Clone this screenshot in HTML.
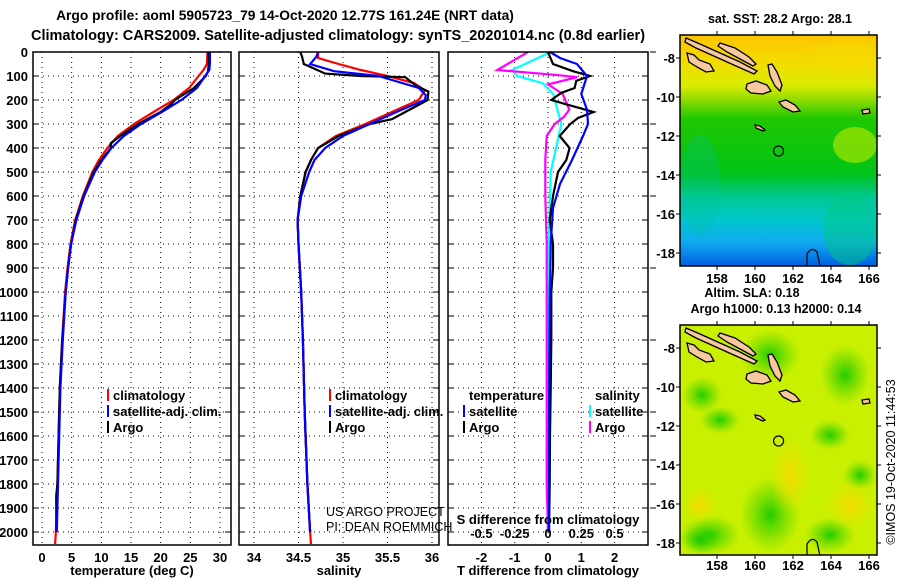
<!DOCTYPE html>
<html><head><meta charset="utf-8"><style>
html,body{margin:0;padding:0;background:#fff;overflow:hidden;width:900px;height:580px}
svg{display:block;overflow:hidden}
text{font-family:"Liberation Sans",sans-serif;font-weight:bold;fill:#000}
</style></head><body>
<svg id="fig" width="900" height="580" viewBox="0 0 900 580" xmlns="http://www.w3.org/2000/svg">
<defs>
<linearGradient id="sstGrad" x1="0" y1="0" x2="0" y2="1">
<stop offset="0" stop-color="#ffc400"/><stop offset="0.12" stop-color="#f2dc00"/>
<stop offset="0.22" stop-color="#d8ec00"/><stop offset="0.28" stop-color="#90dc00"/>
<stop offset="0.36" stop-color="#20c800"/><stop offset="0.6" stop-color="#00c418"/>
<stop offset="0.7" stop-color="#00c890"/><stop offset="0.8" stop-color="#00c8cc"/>
<stop offset="0.9" stop-color="#10a8f0"/><stop offset="1" stop-color="#0060e0"/>
</linearGradient>
<radialGradient id="blobG"><stop offset="0" stop-color="#10c800" stop-opacity="0.9"/><stop offset="1" stop-color="#40d000" stop-opacity="0"/></radialGradient>
<radialGradient id="blobY"><stop offset="0" stop-color="#f8d800" stop-opacity="0.9"/><stop offset="1" stop-color="#f0e000" stop-opacity="0"/></radialGradient>
<clipPath id="clipMap1"><rect x="680" y="35" width="197" height="231"/></clipPath>
<clipPath id="clipMap2"><rect x="680" y="325" width="197" height="230"/></clipPath>
</defs>
<g id="root"></g>
</svg>
<script>
// ---------- data ----------
const depthTicks = [0,100,200,300,400,500,600,700,800,900,1000,1100,1200,1300,1400,1500,1600,1700,1800,1900,2000];
const tempTicks = [0,5,10,15,20,25,30];
const salTicks = [34,34.5,35,35.5,36];
const salTickLabels = ["34","34.5","35","35.5","36"];
const tdiffTicks = [-2,-1,0,1,2];
const sdiffTicks = [-0.5,-0.25,0,0.25,0.5];
const sdiffTickLabels = ["-0.5","-0.25","0","0.25","0.5"];

const tClimDepth = [0,50,75,100,150,200,250,300,350,400,450,500,600,700,800,900,1000,1200,1400,1600,1800,2000,2050];
const tClimVal   = [27.9,27.8,27.2,26.4,24.8,22.2,18.8,15.5,12.8,11.0,9.6,8.5,6.9,5.6,4.8,4.3,3.9,3.4,3.0,2.8,2.6,2.35,2.2];
const tSatDepth  = [0,50,75,100,150,200,250,300,350,400,450,500,600,700,800,900,1000,1200,1400,1600,1800,2000];
const tSatVal    = [28.3,28.3,28.2,27.5,26.1,23.5,20.2,16.7,13.8,11.7,10.2,8.9,7.1,5.8,4.9,4.4,4.0,3.5,3.1,2.9,2.7,2.5];
const tArgoDepth = [0,50,80,100,150,200,220,250,300,350,380,400,450,500,600,700,800,900,1000,1200,1400,1600,1800,1850,2000];
const tArgoVal   = [28.1,28.1,28.0,27.6,25.6,22.4,21.6,20.0,16.2,13.2,11.6,11.6,10.0,8.7,7.0,5.7,4.9,4.4,4.0,3.4,3.0,2.8,2.6,2.4,2.45];

const sClimDepth = [0,25,50,75,100,130,160,200,250,300,350,400,450,500,600,700,800,1000,1200,1500,1800,2000,2050];
const sClimVal   = [34.72,34.72,34.95,35.2,35.5,35.8,35.92,35.85,35.55,35.25,34.92,34.72,34.64,34.58,34.52,34.49,34.5,34.53,34.55,34.57,34.6,34.63,34.64];
const sSatDepth  = [0,20,50,80,100,150,180,200,250,300,350,400,450,500,600,700,800,1000,1200,1500,1800,2000];
const sSatVal    = [34.72,34.7,34.63,34.9,35.4,35.85,35.93,35.92,35.6,35.3,35.0,34.8,34.68,34.62,34.53,34.49,34.5,34.53,34.55,34.57,34.6,34.63];
const sArgoDepth = [0,20,50,90,100,105,120,140,165,200,250,280,300,350,400,450,500,600,700,800,1000,1200,1500,1800,2000];
const sArgoVal   = [34.52,34.54,34.56,34.8,35.2,35.7,35.75,35.82,35.96,35.95,35.7,35.55,35.3,34.95,34.72,34.64,34.58,34.52,34.49,34.5,34.53,34.55,34.57,34.6,34.63];

const dTSatDepth = [0,25,50,100,175,240,300,350,450,550,650,800,1000,1300,1600,2000];
const dTSatVal   = [0.06,0.36,0.87,1.17,1.0,1.17,1.2,1.05,0.72,0.36,0.15,0.08,0.05,0.04,0.03,0.03];
const dTArgoDepth= [0,50,80,100,120,150,170,200,220,250,275,300,350,400,450,500,600,700,800,900,1000,1200,1400,1600,1800,2000];
const dTArgoVal  = [0.0,0.15,0.75,1.26,0.85,0.8,0.4,0.1,0.6,1.37,0.9,0.67,0.35,0.65,0.55,0.3,0.15,0.05,0.15,0.15,0.1,0.1,0.08,0.06,0.05,0.03];
const dSSatDepth = [0,75,100,130,175,240,300,400,500,700,1000,1500,2000];
const dSSatVal   = [0.02,-0.27,-0.23,-0.04,0.04,0.07,0.1,0.06,0.02,0.01,0.0,0.0,0.0];
const dSArgoDepth= [0,75,95,105,135,175,240,270,300,350,450,600,800,1000,1400,1800,2000];
const dSArgoVal  = [-0.15,-0.38,0.05,0.22,0.0,0.11,0.16,0.12,0.05,-0.01,-0.02,-0.02,-0.01,-0.01,-0.01,-0.01,0.0];

const mapLonTicks = [158,160,162,164,166];
const mapLatTicks = [-8,-10,-12,-14,-16,-18];
const argoLon = 161.24, argoLat = -12.77;

// ---------- helpers ----------
const NS = "http://www.w3.org/2000/svg";
const root = document.getElementById('root');
function el(tag, attrs, parent){ const e=document.createElementNS(NS,tag); for(const k in attrs) e.setAttribute(k,attrs[k]); (parent||root).appendChild(e); return e; }
function txt(x,y,s,size,anchor,parent){ const t=el('text',{x:x,y:y,'font-size':size,'text-anchor':anchor||'middle'},parent); t.textContent=s; return t; }

const PT=52, PB=545;
const yD = d => PT + d*0.24;
const panels = [
  {name:'temperature-panel', x0:33, x1:231, sx:v=>42+v*5.933},
  {name:'salinity-panel', x0:239, x1:439, sx:v=>254+(v-34)*89},
  {name:'difference-panel', x0:448, x1:648, sx:v=>548+v*33.3}
];
const sS = v => 548 + v*133.2;

function drawPanel(p, ticks, labels, title, parent){
  ticks.forEach(t=>{ const x=p.sx(t); el('line',{x1:x,y1:PT,x2:x,y2:PB,stroke:'#000','stroke-width':1,'stroke-dasharray':'1,4'},parent);});
  depthTicks.forEach(d=>{ const y=yD(d); el('line',{x1:p.x0,y1:y,x2:p.x1,y2:y,stroke:'#000','stroke-width':1,'stroke-dasharray':'1,4'},parent);
    el('line',{x1:p.x0,y1:y,x2:p.x0+6,y2:y,stroke:'#000'},parent); el('line',{x1:p.x1-6,y1:y,x2:p.x1,y2:y,stroke:'#000'},parent);});
  labels.forEach((l,i)=>{ const t=txt(p.sx(ticks[i]),562,l,13,'middle',parent);   });
  const tt=txt((p.x0+p.x1)/2,575,title,13,'middle',parent);
  
  
}
function line(xs, depths, vals, color, parent, name){
  const pts = depths.map((d,i)=>xs(vals[i]).toFixed(1)+','+yD(d).toFixed(1)).join(' ');
  const pl = el('polyline',{points:pts,fill:'none',stroke:color,'stroke-width':2.2,'stroke-linejoin':'miter'},parent);
  
  
}
function legend(x,y,color,label,parent){
  el('rect',{x:x,y:y-11,width:2,height:12,fill:color},parent);
  txt(x+6,y,label,13,'start',parent);
}

// ---------- titles ----------
const t1=txt(285,20,"Argo profile: aoml 5905723_79 14-Oct-2020 12.77S 161.24E (NRT data)",13.8,'middle');


const t2=txt(338,40,"Climatology: CARS2009. Satellite-adjusted climatology: synTS_20201014.nc (0.8d earlier)",14.5,'middle');



const yax = el('g',{});


depthTicks.forEach(d=>txt(28,yD(d)+5,String(d),13,'end',yax));

// panel 1
const g1 = el('g',{});


drawPanel(panels[0], tempTicks, tempTicks.map(String), "temperature (deg C)", g1);
line(panels[0].sx, tClimDepth, tClimVal, '#ff0000', g1, 'temp-climatology-line');
line(panels[0].sx, tArgoDepth, tArgoVal, '#000000', g1, 'temp-argo-line');
line(panels[0].sx, tSatDepth, tSatVal, '#0000ff', g1, 'temp-satellite-line');
el('rect',{x:33,y:PT,width:198,height:PB-PT,fill:'none',stroke:'#000','stroke-width':1.5},g1);
const lg1 = el('g',{},g1);


legend(107,400,'#ff0000','climatology',lg1); legend(107,416,'#0000ff','satellite-adj. clim.',lg1); legend(107,432,'#000','Argo',lg1);

// panel 2
const g2 = el('g',{});


drawPanel(panels[1], salTicks, salTickLabels, "salinity", g2);
line(panels[1].sx, sClimDepth, sClimVal, '#ff0000', g2, 'sal-climatology-line');
line(panels[1].sx, sArgoDepth, sArgoVal, '#000000', g2, 'sal-argo-line');
line(panels[1].sx, sSatDepth, sSatVal, '#0000ff', g2, 'sal-satellite-line');
el('rect',{x:239,y:PT,width:200,height:PB-PT,fill:'none',stroke:'#000','stroke-width':1.5},g2);
const lg2 = el('g',{},g2);


legend(329,400,'#ff0000','climatology',lg2); legend(329,416,'#0000ff','satellite-adj. clim.',lg2); legend(329,432,'#000','Argo',lg2);
const c1=txt(326,516,"US ARGO PROJECT",12.5,'start',g2); c1.style.fontWeight='normal';
const c2=txt(326,531,"PI: DEAN ROEMMICH",12.5,'start',g2); c2.style.fontWeight='normal';

// panel 3
const g3 = el('g',{});


drawPanel(panels[2], tdiffTicks, tdiffTicks.map(String), "T difference from climatology", g3);
line(sS, dSSatDepth, dSSatVal, '#00ffff', g3, 'sdiff-satellite-line');
line(sS, dSArgoDepth, dSArgoVal, '#ff00ff', g3, 'sdiff-argo-line');
line(panels[2].sx, dTArgoDepth, dTArgoVal, '#000000', g3, 'tdiff-argo-line');
line(panels[2].sx, dTSatDepth, dTSatVal, '#0000ff', g3, 'tdiff-satellite-line');
el('rect',{x:448,y:PT,width:200,height:PB-PT,fill:'none',stroke:'#000','stroke-width':1.5},g3);
depthTicks.forEach(d=>{ if(d%300===0||d===1500||d===1600||d===1700||d===1900) el('line',{x1:650,y1:yD(d),x2:656,y2:yD(d),stroke:'#000'},g3);});
txt(548,524,"S difference from climatology",13,'middle',g3);
sdiffTicks.forEach((v,i)=>txt(sS(v),538,sdiffTickLabels[i],13,'middle',g3));
const lg3 = el('g',{},g3);


txt(469,400,'temperature',13,'start',lg3);
legend(463,416,'#0000ff','satellite',lg3); legend(463,432,'#000','Argo',lg3);
txt(595,400,'salinity',13,'start',lg3);
legend(589,416,'#00ffff','satellite',lg3); legend(589,432,'#ff00ff','Argo',lg3);

// ---------- maps ----------
const islands = [
 [[686,38],[700,44],[720,53],[740,62],[757,71],[754,74],[736,66],[716,57],[696,48],[685,42]],
 [[720,43],[735,48],[749,57],[756,64],[753,66],[740,59],[727,52],[718,46]],
 [[687,53],[694,55],[699,60],[710,64],[714,71],[706,72],[697,67],[689,62]],
 [[747,84],[756,81],[767,85],[771,91],[763,94],[751,93],[746,89]],
 [[768,65],[772,64],[777,72],[782,85],[780,91],[775,86],[770,76]],
 [[779,102],[786,100],[795,105],[800,111],[793,112],[783,107]],
 [[755,125],[760,126],[765,130],[763,131],[756,128]],
 [[862,110],[869,109],[870,113],[863,114]]
];
function drawMap(top, clipId, isSST, name){
  const g = el('g',{});
  
  
  const inner = el('g',{'clip-path':'url(#'+clipId+')'},g);
  if(isSST){
    el('rect',{x:680,y:top,width:197,height:231,fill:'url(#sstGrad)'},inner);
    el('ellipse',{cx:850,cy:top+25,rx:50,ry:25,fill:'url(#blobY)'},inner);
    el('ellipse',{cx:700,cy:top+150,rx:20,ry:50,fill:'#00c0a0','fill-opacity':0.25},inner);
    el('ellipse',{cx:855,cy:top+110,rx:22,ry:18,fill:'#c0ea00','fill-opacity':0.6},inner);
    el('ellipse',{cx:850,cy:top+195,rx:27,ry:35,fill:'#00c880','fill-opacity':0.5},inner);
  } else {
    el('rect',{x:680,y:top,width:197,height:230,fill:'#c8f000'},inner);
    [[710,top+210,30,20],[770,top+30,30,25],[702,top+70,20,18],[720,top+95,20,14],[700,top+215,20,15],[770,top+190,30,38],[845,top+50,25,30],[830,top+110,20,15],[860,top+150,17,15],[830,top+210,25,18]]
      .forEach(b=>el('ellipse',{cx:b[0],cy:b[1],rx:b[2],ry:b[3],fill:'url(#blobG)'},inner));
    [[790,top+150,20,40],[850,top+180,25,25],[700,top+180,18,18]].forEach(b=>el('ellipse',{cx:b[0],cy:b[1],rx:b[2],ry:b[3],fill:'url(#blobY)'},inner));
  }
  const dy = top-35;
  islands.forEach(p=>el('polygon',{points:p.map(q=>q[0]+','+(q[1]+dy)).join(' '),fill:'#f8c8a0',stroke:'#000','stroke-width':1.3},inner));
  el('path',{d:'M807 '+(266+dy)+' L807 '+(254+dy)+' Q812 '+(246+dy)+' 817 '+(252+dy)+' L820 '+(266+dy),fill:'none',stroke:'#000','stroke-width':1.2},inner);
  const sx = v=>717+(v-158)*19, sy = v=>top+23+(-8-v)*19.5;
  el('circle',{cx:sx(argoLon),cy:sy(argoLat),r:5,fill:'none',stroke:'#000','stroke-width':1.2},inner);
  el('rect',{x:680,y:top,width:197,height:isSST?231:230,fill:'none',stroke:'#000','stroke-width':1.5},g);
  mapLonTicks.forEach(v=>{ el('line',{x1:sx(v),y1:top-4,x2:sx(v),y2:top,stroke:'#000'},g); el('line',{x1:sx(v),y1:top+(isSST?231:230),x2:sx(v),y2:top+(isSST?235:234),stroke:'#000'},g);
    txt(sx(v),top+(isSST?248:245),String(v),13,'middle',g);});
  mapLatTicks.forEach(v=>{ el('line',{x1:676,y1:sy(v),x2:680,y2:sy(v),stroke:'#000'},g); el('line',{x1:877,y1:sy(v),x2:881,y2:sy(v),stroke:'#000'},g);
    txt(675,sy(v)+5,String(v),13,'end',g);});
  return g;
}
drawMap(35,'clipMap1',true,'sst-map');
drawMap(325,'clipMap2',false,'sla-map');
txt(780,23,"sat. SST: 28.2 Argo: 28.1",12.5,'middle');
txt(752,297,"Altim. SLA: 0.18",12.5,'middle');
txt(776,313,"Argo h1000: 0.13 h2000: 0.14",12.5,'middle');
const im = txt(0,0,"©IMOS 19-Oct-2020 11:44:53",12.5,'middle');
im.style.fontWeight='normal';
im.setAttribute('transform','translate(895,462) rotate(-90)');


</script>
</body></html>
